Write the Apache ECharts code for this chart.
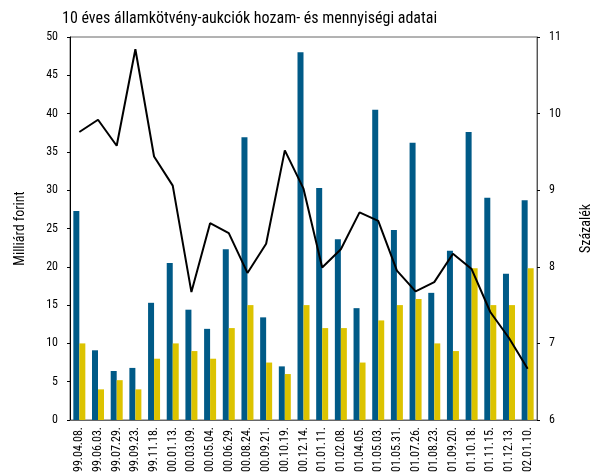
<!DOCTYPE html>
<html>
<head>
<meta charset="utf-8">
<script src="https://cdn.jsdelivr.net/npm/echarts@6/dist/echarts.min.js"></script>
<style>
  html, body { margin: 0; padding: 0; background: #fff; }
  #chart { width: 601px; height: 476px; }
</style>
</head>
<body>
<div id="chart"></div>
<script>
// aukciók dátumai
var dates = ['99.04.08.', '99.06.03.', '99.07.29.', '99.09.23.', '99.11.18.', '00.01.13.', '00.03.09.',
  '00.05.04.', '00.06.29.', '00.08.24.', '00.09.21.', '00.10.19.', '00.12.14.', '01.01.11.', '01.02.08.',
  '01.04.05.', '01.05.03.', '01.05.31.', '01.07.26.', '01.08.23.', '01.09.20.', '01.10.18.', '01.11.15.',
  '01.12.13.', '02.01.10.'];
// benyújtott ajánlatok (Mrd Ft)
var bidAmount = [27.3, 9.1, 6.4, 6.8, 15.3, 20.5, 14.4, 11.9, 22.3, 36.9, 13.4, 7.0, 48.0, 30.3, 23.6,
  14.6, 40.5, 24.8, 36.2, 16.6, 22.1, 37.6, 29.0, 19.1, 28.7];
// elfogadott mennyiség (Mrd Ft)
var acceptedAmount = [10, 4, 5.2, 4, 8, 10, 9, 8, 12, 15, 7.5, 6, 15, 12, 12,
  7.5, 13, 15, 15.8, 10, 9, 19.8, 15, 15, 19.8];
// átlaghozam (%)
var avgYield = [9.76, 9.92, 9.58, 10.84, 9.44, 9.06, 7.67, 8.57, 8.44, 7.92, 8.30, 9.52, 9.02, 7.99, 8.23,
  8.71, 8.60, 7.95, 7.68, 7.80, 8.17, 7.97, 7.41, 7.07, 6.67];

var font = "'Liberation Sans Narrow', 'Roboto Condensed', 'Liberation Sans', sans-serif";

var chart = echarts.init(document.getElementById('chart'));
chart.setOption({
  animation: false,
  title: {
    text: '10 éves államkötvény-aukciók hozam- és mennyiségi adatai',
    left: 57,
    top: 6,
    textStyle: { fontFamily: font, fontSize: 16, fontWeight: 'normal', color: '#000' }
  },
  grid: {
    left: 70,
    right: 54,
    top: 37,
    bottom: 56,
    show: true,
    borderColor: '#666',
    borderWidth: 1
  },
  xAxis: {
    type: 'category',
    data: dates,
    axisLine: { lineStyle: { color: '#666' } },
    axisTick: { length: 3, lineStyle: { color: '#000' } },
    axisLabel: { rotate: 90, fontFamily: font, fontSize: 12, color: '#000', margin: 7 }
  },
  yAxis: [
    {
      type: 'value',
      min: 0,
      max: 50,
      interval: 5,
      name: 'Milliárd forint',
      nameLocation: 'middle',
      nameGap: 43,
      nameTextStyle: { fontFamily: font, fontSize: 14, color: '#000' },
      axisLine: { show: true, lineStyle: { color: '#000' } },
      axisTick: { show: true, length: 3, lineStyle: { color: '#000' } },
      axisLabel: { fontFamily: font, fontSize: 12, color: '#000', margin: 12 },
      splitLine: { show: false }
    },
    {
      type: 'value',
      min: 6,
      max: 11,
      interval: 1,
      name: 'Százalék',
      nameLocation: 'middle',
      nameGap: 42,
      nameRotate: 90,
      nameTextStyle: { fontFamily: font, fontSize: 14, color: '#000' },
      axisLine: { show: true, lineStyle: { color: '#555' } },
      axisTick: { show: true, length: 3, lineStyle: { color: '#000' } },
      axisLabel: { fontFamily: font, fontSize: 12, color: '#000', margin: 12 },
      splitLine: { show: false }
    }
  ],
  series: [
    {
      name: 'Benyújtott',
      type: 'bar',
      barWidth: 6,
      barGap: '0%',
      itemStyle: { color: '#005a87' },
      data: bidAmount
    },
    {
      name: 'Elfogadott',
      type: 'bar',
      barWidth: 6,
      itemStyle: { color: '#dcc300' },
      data: acceptedAmount
    },
    {
      name: 'Átlaghozam',
      type: 'line',
      yAxisIndex: 1,
      symbol: 'none',
      lineStyle: { color: '#000', width: 2 },
      data: avgYield
    }
  ]
});
</script>
</body>
</html>
